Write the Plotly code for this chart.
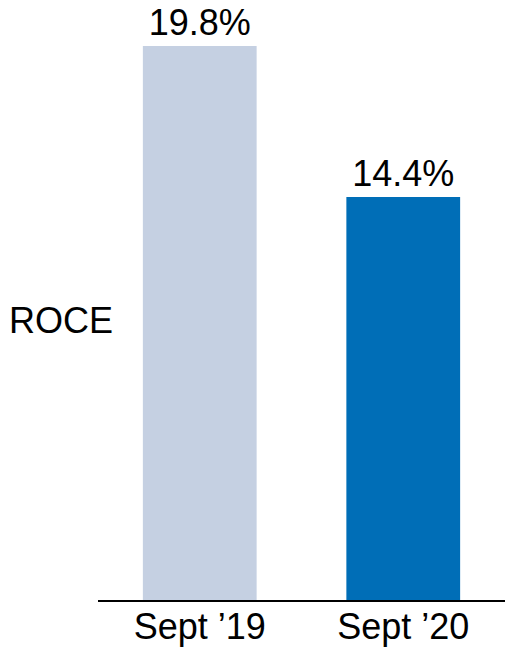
import plotly.graph_objects as go

# ROCE by period
periods = ["Sept \u201919", "Sept \u201920"]
roce = [19.8, 14.4]
value_labels = ["19.8%", "14.4%"]
bar_colors = ["#C5D0E2", "#006EB7"]

FONT = "Arial, 'Liberation Sans', sans-serif"

fig = go.Figure(
    go.Bar(
        x=periods,
        y=roce,
        marker=dict(color=bar_colors, line=dict(width=0)),
        text=value_labels,
        textposition="outside",
        textfont=dict(family=FONT, size=36, color="#000000"),
        cliponaxis=False,
        hoverinfo="skip",
    )
)

fig.add_annotation(
    text="ROCE",
    xref="paper", yref="paper",
    x=-0.2236, y=0.466,
    xanchor="left", yanchor="middle",
    showarrow=False,
    font=dict(family=FONT, size=36, color="#000000"),
)

fig.update_layout(
    width=505, height=653,
    margin=dict(l=98, r=0, t=0, b=53),
    paper_bgcolor="white", plot_bgcolor="white",
    bargap=0.441,
    showlegend=False,
    font=dict(family=FONT, size=36, color="#000000"),
)
fig.update_xaxes(
    range=[-0.5, 1.5],
    showline=True, linecolor="#000000", linewidth=2,
    showgrid=False, zeroline=False, ticks="",
    ticklabelstandoff=-6,
    tickfont=dict(family=FONT, size=36, color="#000000"),
)
fig.update_yaxes(
    range=[0, 21.44],
    visible=False, showgrid=False, zeroline=False,
)

fig.write_html("out.html")
